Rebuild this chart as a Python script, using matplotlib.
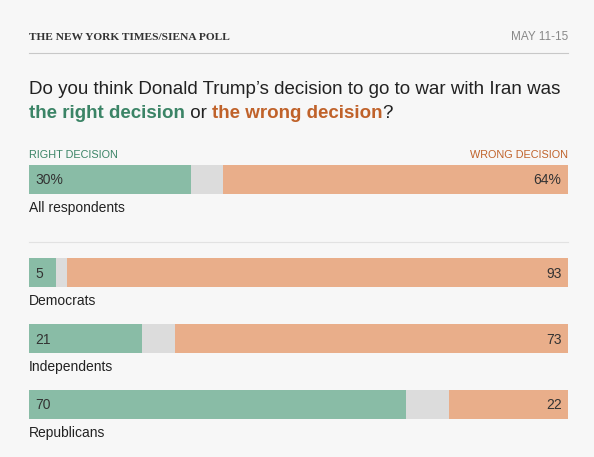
import matplotlib
matplotlib.use("Agg")
import matplotlib.pyplot as plt

groups = ["All respondents", "Democrats", "Independents", "Republicans"]
right = [30, 5, 21, 70]
wrong = [64, 93, 73, 22]
labels_right = ["30%", "5", "21", "70"]
labels_wrong = ["64%", "93", "73", "22"]

GREEN = "#89bca6"; GRAY = "#dcdcdc"; ORANGE = "#e9ae8a"
GTXT = "#3b8466"; OTXT = "#c0622a"; DARK = "#333333"; BG = "#f7f7f7"
SANS = "Liberation Sans"

W, H = 594, 457
fig = plt.figure(figsize=(W/100, H/100), dpi=100, facecolor=BG)
x0, x1 = 29, 568
ax = fig.add_axes([x0/W, 0, (x1-x0)/W, 1])
ax.set_xlim(0, 100); ax.set_ylim(H, 0)
ax.axis("off"); ax.set_facecolor(BG)

ycent = [179.5, 272.5, 338.5, 404]
bh = 29
for g, r, w, lr, lw, yc in zip(groups, right, wrong, labels_right, labels_wrong, ycent):
    ax.barh(yc, r, height=bh, color=GREEN, left=0)
    ax.barh(yc, 100 - r - w, height=bh, color=GRAY, left=r)
    ax.barh(yc, w, height=bh, color=ORANGE, left=100 - w)
    ax.text(1.2, yc + 1, lr, va="center", ha="left", fontsize=10, color=DARK, family=SANS)
    ax.text(98.8, yc + 1, lw, va="center", ha="right", fontsize=10, color=DARK, family=SANS)
    ax.text(0, yc + bh/2 + 14, g, va="center", ha="left", fontsize=10, color="#222222", family=SANS)

ax.plot([0, 100], [242, 242], color="#e2e2e2", lw=0.8, clip_on=False)
ax.plot([0, 100], [53, 53], color="#c8c8c8", lw=0.8, clip_on=False)

ax.text(0, 37, "THE NEW YORK TIMES/SIENA POLL", family="Liberation Serif", weight="bold",
        fontsize=8.2, color="#333333", va="center", ha="left")
ax.text(100, 37, "MAY 11-15", family=SANS, fontsize=8.5, color="#888888", va="center", ha="right")

ax.text(0, 155, "RIGHT DECISION", family=SANS, fontsize=7.8, color=GTXT, va="center", ha="left")
ax.text(100, 155, "WRONG DECISION", family=SANS, fontsize=7.8, color=OTXT, va="center", ha="right")

ax.text(0, 90, "Do you think Donald Trump\u2019s decision to go to war with Iran was",
        family=SANS, fontsize=13.5, color="#222222", va="center", ha="left")

fig.canvas.draw()
r = fig.canvas.get_renderer()
parts = [("the right decision", GTXT, "bold"), (" or ", "#222222", "normal"),
         ("the wrong decision", OTXT, "bold"), ("?", "#222222", "normal")]
cur = 0
inv = ax.transData.inverted()
for s, c, wt in parts:
    t = ax.text(cur, 114, s, family=SANS, fontsize=13.5, color=c, weight=wt, va="center", ha="left")
    bb = t.get_window_extent(renderer=r)
    cur = inv.transform((bb.x1, bb.y0))[0]

fig.savefig("out.png", dpi=100, facecolor=BG)
